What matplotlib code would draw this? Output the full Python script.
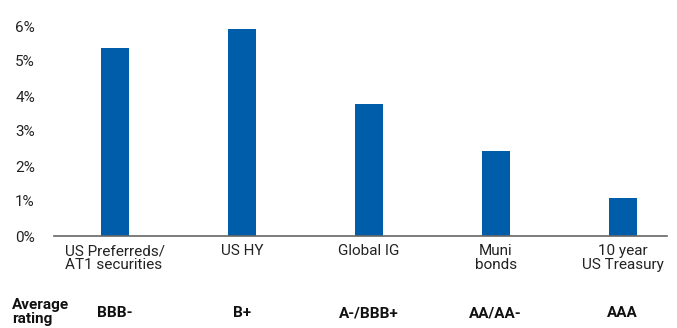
import matplotlib
matplotlib.use("Agg")
import matplotlib.pyplot as plt
import matplotlib.transforms as mtransforms

categories = ["US Preferreds/\nAT1 securities", "US HY", "Global IG", "Muni\nbonds", "10 year\nUS Treasury"]
yields = [5.37, 5.91, 3.77, 2.43, 1.09]
ratings = ["BBB-", "B+", "A-/BBB+", "AA/AA-", "AAA"]
yticks = [0, 1, 2, 3, 4, 5, 6]

plt.rcParams['font.family'] = ['Roboto', 'DejaVu Sans']
W, H = 677, 328
FS = 11

fig = plt.figure(figsize=(W / 100, H / 100), dpi=100)
ax = fig.add_axes([54 / W, (H - 236) / H, (667 - 54) / W, (236 - 26) / H])

x = range(len(categories))
ax.bar(x, yields, width=0.22, color="#005DAA", zorder=2)

ax.set_xlim(-0.48, 4.35)
ax.set_ylim(0, 6)
ax.set_yticks(yticks)
ax.set_yticklabels([f"{v}%" for v in yticks], ha="left", fontsize=FS, color="#222222")
ax.tick_params(axis="y", length=0, pad=28)
ax.set_xticks(list(x))
ax.set_xticklabels(categories, fontsize=FS, color="#222222", linespacing=1.0)
ax.get_xticklabels()[0].set_multialignment("left")
ax.tick_params(axis="x", length=0, pad=6)

for s in ["top", "right", "left"]:
    ax.spines[s].set_visible(False)
ax.spines["bottom"].set_color("#666666")
ax.spines["bottom"].set_linewidth(1.2)

# ratings row below the chart
trans = mtransforms.blended_transform_factory(ax.transData, fig.transFigure)
for i, r in enumerate(ratings):
    ax.text(i, (H - 313) / H, r, transform=trans, ha="center", va="center",
            fontsize=FS, fontweight="bold", color="#111111")
fig.text(12 / W, (H - 312) / H, "Average\nrating", ha="left", va="center",
         fontsize=FS, fontweight="bold", color="#111111", linespacing=1.05)

fig.savefig("out.png", dpi=100)
